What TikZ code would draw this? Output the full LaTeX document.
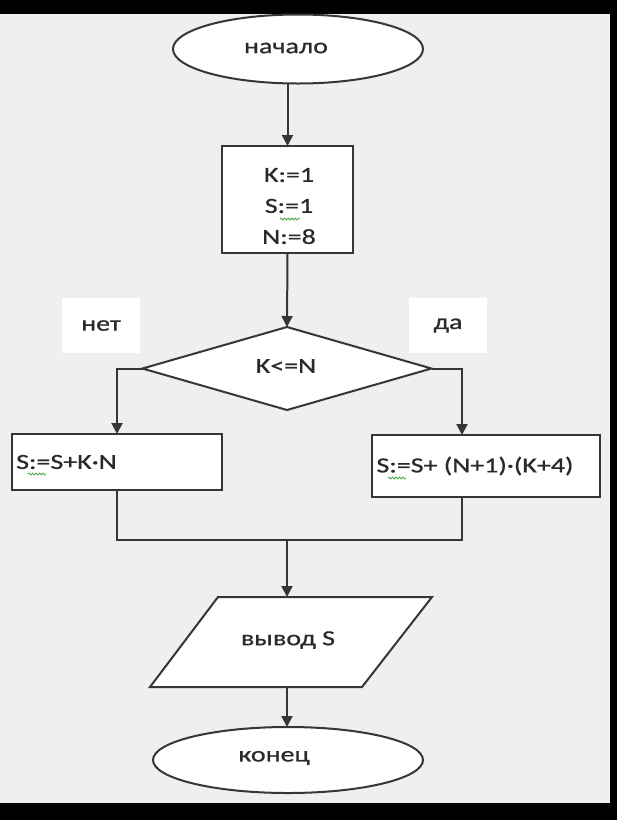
\documentclass[tikz,border=0pt]{standalone}
\usepackage{fontspec}
\setmainfont[FakeStretch=1.3,FakeBold=0.8]{Carlito}
\usetikzlibrary{arrows.meta,shapes.geometric,decorations.pathmorphing}
\definecolor{bg}{HTML}{EFEFEF}
\definecolor{ln}{HTML}{363636}
\definecolor{tx}{HTML}{2A2A2A}
\definecolor{sq}{HTML}{4CA64C}
\begin{document}
\begin{tikzpicture}[x=1pt,y=-1pt,
  every node/.style={font=\fontsize{21.5}{31}\selectfont, text=tx},
  shp/.style={draw=ln, fill=white, line width=2pt, inner sep=0pt, outer sep=0pt},
  lbl/.style={fill=white, inner sep=0pt, minimum width=78, minimum height=55},
  conn/.style={draw=ln, line width=2pt},
  arr/.style={conn, -{Triangle[width=11pt,length=11pt]}},
  squig/.style={draw=sq, line width=0.8pt, decorate, decoration={snake, amplitude=1pt, segment length=3.5pt}}]
\fill[black] (0,0) rectangle (617,820);
\fill[bg] (0,14) rectangle (610,803);
\useasboundingbox (0,0) rectangle (617,820);
% start
\node[shp, ellipse, minimum width=250, minimum height=69] (start) at (298,49) {};
\node (tstart) at (286,48) {начало};
% init
\node[shp, minimum width=131, minimum height=107] (init) at (287.5,199.5) {};
\node[align=center] (tinit) at (289,206) {K:=1\\S:=1\\N:=8};
% condition
\node[shp, diamond, minimum width=289, minimum height=83] (cond) at (287,368.5) {};
\node (tcond) at (286,366) {K<=N};
\node[lbl] (no) at (101,325.5) {нет};
\node[lbl] (yes) at (448,325.5) {да};
% branches
\node[shp, minimum width=210, minimum height=56] (lb) at (117,462) {};
\node[anchor=west, inner sep=0pt] (tlb) at (16,462) {S:=S+K·N};
\node[shp, minimum width=228, minimum height=62] (rb) at (486,466) {};
\node (trb) at (475,466) {S:=S+ (N+1)·(K+4)};
% spell-check squiggles
\draw[squig] (280,219) -- (300,219);
\draw[squig] (28,474) -- (46,474);
\draw[squig] (388,478) -- (406,478);
% output
\coordinate (p1) at (218,597);
\coordinate (p2) at (432,597);
\coordinate (p3) at (362,687);
\coordinate (p4) at (150,687);
\draw[draw=ln, fill=white, line width=2pt] (p1) -- (p2) -- (p3) -- (p4) -- cycle;
\node (tout) at (288,640) {вывод S};
\coordinate (outtop) at (287,597);
\coordinate (outbot) at (287,687);
% end
\node[shp, ellipse, minimum width=270, minimum height=66] (stop) at (288,760) {};
\node (tstop) at (274,758) {конец};
% connectors
\coordinate (m) at (287,540);
\draw[arr] (start.south -| init.north) -- (init.north);
\draw[arr] (init.south) -- (cond.north);
\draw[arr] (cond.west) -| (lb.north);
\draw[arr] (cond.east) -| ([xshift=-24pt]rb.north);
\draw[conn] (lb.south) |- (m) -| ([xshift=-24pt]rb.south);
\draw[arr] (m) -- (outtop);
\draw[arr] (outbot) -- (outbot |- stop.north);
\end{tikzpicture}
\end{document}
